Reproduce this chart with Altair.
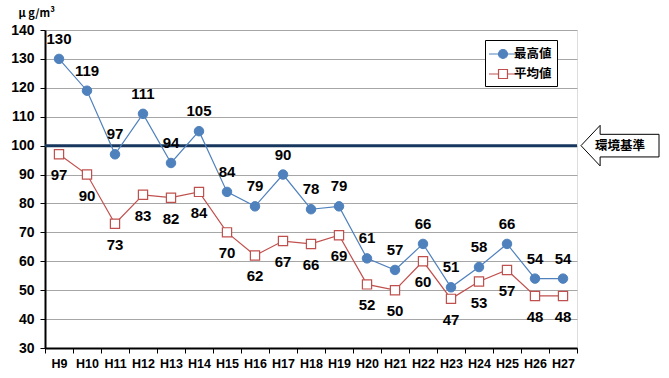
import altair as alt
import pandas as pd

years = ["H9", "H10", "H11", "H12", "H13", "H14", "H15", "H16", "H17", "H18",
         "H19", "H20", "H21", "H22", "H23", "H24", "H25", "H26", "H27"]
max_vals = [130, 119, 97, 111, 94, 105, 84, 79, 90, 78, 79, 61, 57, 66, 51, 58, 66, 54, 54]
avg_vals = [97, 90, 73, 83, 82, 84, 70, 62, 67, 66, 69, 52, 50, 60, 47, 53, 57, 48, 48]
series_names = ["最高値", "平均値"]
y_ticks = [30, 40, 50, 60, 70, 80, 90, 100, 110, 120, 130, 140]
std_value = [100]
std_label = "環境基準"
unit_label = "μ g/m³"

BLUE = "#4F81BD"
RED = "#C0504D"
NAVY = "#17375E"
FONT = "Liberation Sans"
CJK = "Noto Sans CJK JP"

df = pd.DataFrame({
    "year": years * 2,
    "series": [series_names[0]] * len(years) + [series_names[1]] * len(years),
    "value": max_vals + avg_vals,
})
std_df = pd.DataFrame({"value": std_value})

x_enc = alt.X("year:O", sort=years,
              scale=alt.Scale(type="band", paddingInner=0, paddingOuter=0),
              axis=alt.Axis(title=None, labelAngle=0, tickBand="extent", tickSize=5,
                            labelPadding=4, labelFont=FONT, labelFontSize=12.5,
                            labelFontWeight="bold", labelColor="black",
                            domainColor="black", domainWidth=2, tickColor="black",
                            grid=False, labelOverlap=False))
y_enc = alt.Y("value:Q",
              scale=alt.Scale(domain=[30, 140], nice=False, zero=False),
              axis=alt.Axis(values=y_ticks, tickCount=12, labelOverlap=False,
                            title=unit_label, titleAngle=0,
                            titleX=-27, titleY=-14, titleAlign="left",
                            titleBaseline="alphabetic", titleFont=CJK,
                            titleFontSize=11, titleFontWeight="bold",
                            titleColor="black",
                            labelFont=FONT, labelFontSize=14, labelFontWeight="bold",
                            labelColor="black", labelPadding=6, tickSize=5,
                            tickColor="black", domainColor="black", domainWidth=2,
                            grid=True, gridColor="#A6A6A6", gridWidth=1))

base = alt.Chart(df).encode(x=x_enc, y=y_enc)
mx = base.transform_filter(alt.datum.series == series_names[0])
av = base.transform_filter(alt.datum.series == series_names[1])

rule = alt.Chart(std_df).mark_rule(color=NAVY, strokeWidth=3).encode(y=y_enc)

line_max = mx.mark_line(color=BLUE, strokeWidth=1.2)
line_avg = av.mark_line(color=RED, strokeWidth=1.2)
pt_max = mx.mark_point(shape="circle", filled=True, fill=BLUE, stroke=BLUE,
                       size=90, opacity=1, strokeWidth=1)
pt_avg = av.mark_point(shape="square", filled=True, fill="white", stroke=RED,
                       size=85, opacity=1, strokeWidth=1.2)
txt_max = mx.mark_text(dy=-20, font=FONT, fontSize=15, fontWeight="bold",
                       color="black").encode(text="value:Q")
txt_avg = av.mark_text(dy=21, font=FONT, fontSize=15, fontWeight="bold",
                       color="black").encode(text="value:Q")

pathA = "M-1.75,0L-0.56,0M0.56,0L1.75,0M0.56,0A0.56,0.56,0,1,1,-0.56,0A0.56,0.56,0,1,1,0.56,0Z"
pathB = "M-1.75,0L-0.56,0M0.56,0L1.75,0M-0.56,-0.56L0.56,-0.56L0.56,0.56L-0.56,0.56Z"

leg = alt.Legend(orient="none", legendX=440, legendY=10, title=None,
                 strokeColor="black", fillColor="white", padding=5,
                 labelFont=CJK, labelFontSize=12.5, labelFontWeight="bold",
                 labelColor="black", symbolSize=256, symbolStrokeWidth=1.2,
                 symbolOpacity=1, symbolOffset=4, labelOffset=2, rowPadding=4)

legend_layer = base.transform_filter("false").mark_point(
    size=256, opacity=1, filled=True).encode(
    shape=alt.Shape("series:N", scale=alt.Scale(domain=series_names, range=[pathA, pathB]), legend=leg),
    stroke=alt.Stroke("series:N", scale=alt.Scale(domain=series_names, range=[BLUE, RED]), legend=leg),
    fill=alt.Fill("series:N", scale=alt.Scale(domain=series_names, range=[BLUE, "white"]), legend=leg),
)

arrow_path = "M-1,0L-0.51,-0.52L-0.51,-0.29L1,-0.29L1,0.29L-0.51,0.29L-0.51,0.52Z"
arrow = alt.Chart(std_df).mark_point(shape=arrow_path, size=6084, filled=True,
                                     fill="white", stroke="black", strokeWidth=1,
                                     opacity=1).encode(x=alt.value(575), y=y_enc)
arrow_text = alt.Chart(std_df).mark_text(text=std_label, font=CJK, fontSize=12.5,
                                         fontWeight="bold", color="black").encode(
    x=alt.value(575), y=y_enc)

chart = alt.layer(
    rule, line_max, line_avg, pt_max, pt_avg, txt_max, txt_avg,
    legend_layer, arrow, arrow_text
).properties(
    width=532, height=318,
    autosize=alt.AutoSizeParams(type="none"),
    padding={"left": 45, "top": 30, "right": 92, "bottom": 30},
).configure_view(stroke="#707070", strokeWidth=1).configure(background="white")

chart.save("out.html", embed_options={"renderer": "svg", "actions": False})
